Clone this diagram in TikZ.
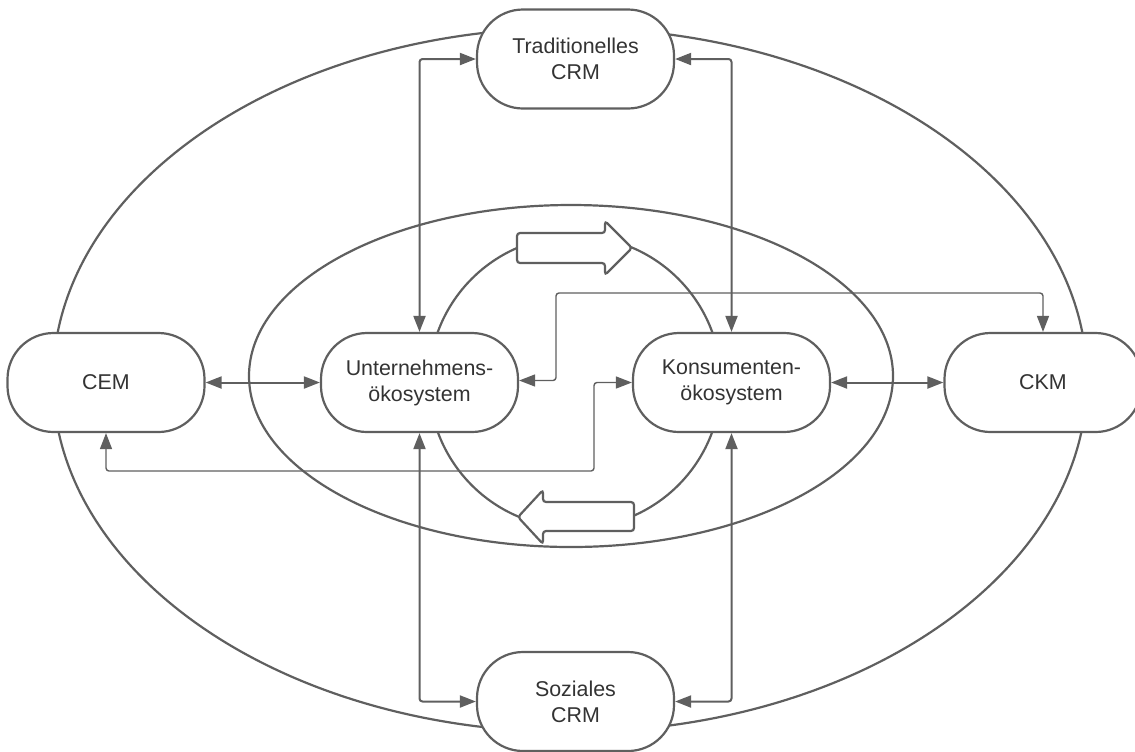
\documentclass[tikz,border=0pt]{standalone}
\usepackage{fontspec}
\setmainfont{Liberation Sans}
\usepackage{xcolor}
\usetikzlibrary{arrows.meta,backgrounds,positioning}
\definecolor{linegray}{HTML}{5F5F5F}
\definecolor{textgray}{HTML}{333333}
\tikzset{
	block/.style={draw=linegray, line width=1.1pt, fill=white, rounded corners=23pt,
		minimum width=98.5pt, minimum height=49.5pt, inner sep=0pt, align=center,
		text=textgray, font=\fontsize{10.7}{13}\selectfont},
	ring/.style={draw=linegray, line width=1.1pt},
	link/.style={draw=linegray, line width=1pt, rounded corners=1.5pt,
		{Triangle[length=8pt,width=6pt]}-{Triangle[length=8pt,width=6pt]}},
	thinlink/.style={link, line width=0.7pt},
	flow/.style={draw=linegray, line width=1.1pt, fill=white, rounded corners=1.5pt}
}

\begin{document}
\begin{tikzpicture}[x=0.5pt,y=-0.5pt]
   \useasboundingbox (0,0) rectangle (1135,751);
   \node[block] (cem)  at (106,382.5)   {CEM};
   \node[block] (unt)  at (419.5,382.5) {Unternehmens-\\ökosystem};
   \node[block] (kon)  at (731.5,382.5) {Konsumenten-\\ökosystem};
   \node[block] (ckm)  at (1043,382.5)  {CKM};
   \node[block] (trad) at (575.5,59)    {Traditionelles\\CRM};
   \node[block] (soz)  at (575.5,701.5) {Soziales\\CRM};
   \begin{scope}[on background layer]
      \draw[ring] (570,380) ellipse [x radius=517, y radius=352];
      \draw[ring] (571,376) ellipse [x radius=322, y radius=171];
      \draw[ring] (575,382) circle [radius=146];
   \end{scope}
   \draw[flow] (517,233) -- (605,233) -- (605,221) -- (632,248) -- (605,275) -- (605,263) -- (517,263) -- cycle;
   \draw[flow] (634,502) -- (543,502) -- (543,490) -- (518,517) -- (543,544) -- (543,531) -- (634,531) -- cycle;
   \coordinate (upbend) at (556,293);
   \coordinate (lowbend) at (594,471);
   \draw[link] (cem) -- (unt);
   \draw[link] (kon) -- (ckm);
   \draw[link] (unt.north) |- (trad.west);
   \draw[link] (trad.east) -| (kon.north);
   \draw[link] (unt.south) |- (soz.west);
   \draw[link] (soz.east) -| (kon.south);
   \draw[thinlink] ([yshift=1pt]unt.east) -| (upbend) -| (ckm.north);
   \draw[thinlink] (kon.west) -| (lowbend) -| (cem.south);
\end{tikzpicture}
\end{document}
